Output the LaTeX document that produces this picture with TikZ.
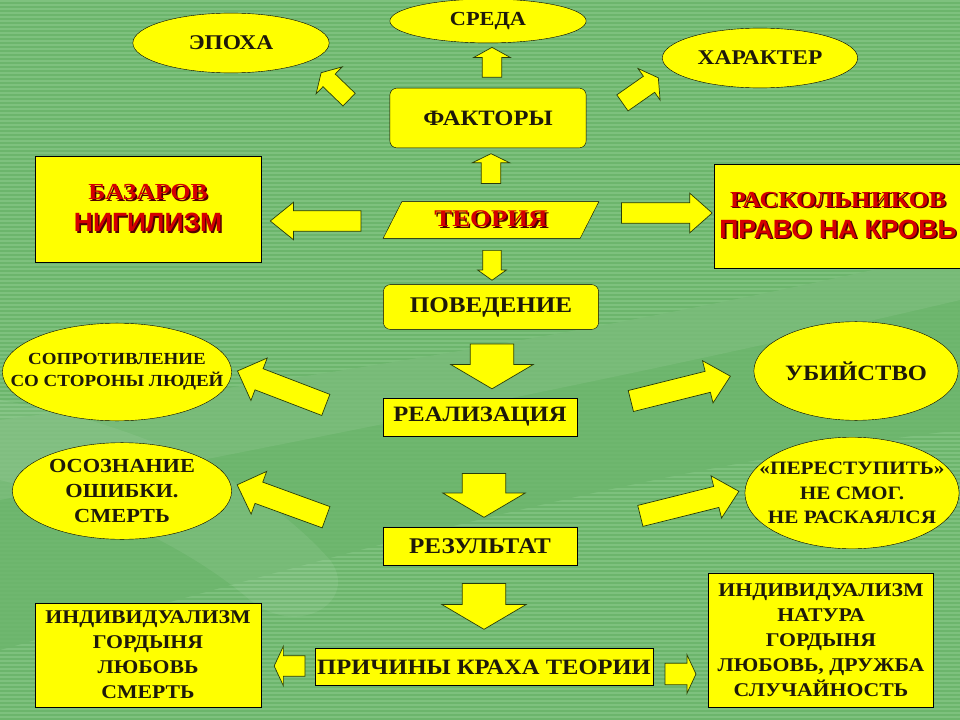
\documentclass[tikz,border=0pt]{standalone}
\usepackage{fontspec}
\setmainfont{Liberation Serif}[FakeStretch=1.12]
\newfontfamily\headsans{Liberation Sans}
\usetikzlibrary{shapes.geometric,shapes.arrows}

\definecolor{bggreen}{RGB}{108,181,108}
\definecolor{stripe}{RGB}{126,193,126}
\definecolor{boxyellow}{RGB}{255,255,0}
\definecolor{ink}{RGB}{30,25,10}
\definecolor{arrowline}{RGB}{40,60,10}
\definecolor{redtxt}{RGB}{212,0,0}
\definecolor{redshade}{RGB}{80,0,0}

% red caption with a dark drop shadow
\newcommand{\shd}[1]{\rlap{\hspace{1.6bp}\raisebox{-1.6bp}{\textcolor{redshade}{#1}}}\textcolor{redtxt}{#1}}
% a line that does not widen its ellipse
\newcommand{\zw}[1]{\makebox[0pt]{#1}}
\newcommand{\fz}[2]{\bfseries\fontsize{#1}{#2}\selectfont}

\begin{document}
\begin{tikzpicture}[x=1bp,y=-1bp,
  oval/.style={ellipse,draw=black,fill=boxyellow,inner sep=0pt,align=center,text=ink},
  box/.style={rectangle,draw=black,fill=boxyellow,inner sep=0pt,align=center,text=ink},
  rbox/.style={box,rounded corners=7bp},
  barrow/.style n args={4}{single arrow,draw=arrowline,fill=boxyellow,line width=0.7bp,
    inner xsep=0pt,inner ysep={#2/2},minimum height={#1},
    single arrow head extend={(#3-#2)/2},single arrow tip angle=#4}]
  \useasboundingbox (0,0) rectangle (960,720);
  % background with fine stripes
  \fill[bggreen] (0,0) rectangle (960,720);
  \foreach \y in {1,5,...,720}
    \draw[stripe,line width=1.6bp] (0,\y) -- (960,\y);
  \fill[bggreen,opacity=0.8] (0,420) .. controls (300,380) and (620,330) .. (960,250)
    -- (960,430) .. controls (620,470) and (320,560) .. (0,650) -- cycle;
  \fill[white,opacity=0.08] (0,420) .. controls (300,380) and (620,330) .. (960,250)
    -- (960,300) .. controls (620,380) and (300,440) .. (0,500) -- cycle;
  \fill[white,opacity=0.07] (0,400) .. controls (120,420) and (250,470) .. (330,560)
    .. controls (360,600) and (300,640) .. (250,600) .. controls (180,540) and (80,500) .. (0,480) -- cycle;

  % factors
  \node[oval,minimum width=197,minimum height=60,font=\fz{21}{25}] (epoha) at (231,43) {ЭПОХА};
  \node[oval,minimum width=197,minimum height=44,font=\fz{20}{24}] (sreda) at (488,21) {СРЕДА};
  \node[oval,minimum width=196,minimum height=60,font=\fz{21}{25}] (harakter) at (760,58) {ХАРАКТЕР};
  \node[rbox,minimum width=197,minimum height=60,font=\fz{22}{26}] (faktory) at (488,118) {ФАКТОРЫ};
  \node[barrow={39}{17}{37}{119},rotate=136] (aepoha) at (337,88) {};
  \node[barrow={30}{19}{36}{122},rotate=90] (asreda) at (492,65) {};
  \node[barrow={44}{19}{38}{119},rotate=35] (aharakter) at (638,92) {};
  \node[barrow={30}{19}{37}{128},rotate=90] (afaktory) at (491,171) {};

  % theory and the two heroes
  \node[trapezium,trapezium left angle=56,trapezium right angle=124,trapezium stretches=true,
    draw=black,fill=boxyellow,inner sep=0pt,minimum width=217,minimum height=37,
    font=\fz{24}{28}] (teoria) at (491,220) {\shd{ТЕОРИЯ}};
  \node[box,minimum width=227,minimum height=106,font=\fz{23}{32}] (bazarov) at (148,209)
    {\shd{БАЗАРОВ}\\{\headsans\fz{26.5}{32}\shd{НИГИЛИЗМ}}};
  \node[box,minimum width=248,minimum height=104,font=\fz{23}{31}] (raskol) at (838,216)
    {\shd{РАСКОЛЬНИКОВ}\\{\headsans\fz{26.5}{31}\shd{ПРАВО НА КРОВЬ}}};
  \node[barrow={91}{20}{37}{78},rotate=180] (abazarov) at (322,221) {};
  \node[barrow={91}{20}{39}{83}] (araskol) at (661,213) {};
  \node[barrow={30}{18}{28}{109},rotate=-90] (apoved) at (492,262) {};

  % central chain
  \node[rbox,minimum width=216,minimum height=45,font=\fz{22.5}{26}] (povedenie) at (491,307) {ПОВЕДЕНИЕ};
  \node[box,minimum width=195,minimum height=38,font=\fz{22}{26}] (realiz) at (480,417) {РЕАЛИЗАЦИЯ};
  \node[box,minimum width=195,minimum height=38,font=\fz{22.5}{26}] (rezult) at (480,546) {РЕЗУЛЬТАТ};
  \node[box,minimum width=339,minimum height=37,font=\fz{22}{26}] (prichiny) at (484,667) {ПРИЧИНЫ КРАХА ТЕОРИИ};
  \node[barrow={45}{43}{82}{119},rotate=-90] (areal) at (492,360) {};
  \node[barrow={44}{43}{82}{119},rotate=-90] (arezult) at (484,489) {};
  \node[barrow={46}{43}{84}{119},rotate=-90] (aprich) at (484,600) {};

  % outcomes
  \node[oval,minimum width=230,minimum height=98,font=\fz{17}{22}] (sopr) at (117,372)
    {\zw{СОПРОТИВЛЕНИЕ}\\\zw{СО СТОРОНЫ ЛЮДЕЙ}};
  \node[oval,minimum width=220,minimum height=97,font=\fz{20}{25}] (osozn) at (122,491)
    {\zw{ОСОЗНАНИЕ}\\\zw{ОШИБКИ.}\\\zw{СМЕРТЬ}};
  \node[oval,minimum width=205,minimum height=99,font=\fz{22}{26}] (ubiistvo) at (856,371) {\zw{УБИЙСТВО}};
  \node[oval,minimum width=215,minimum height=112,font=\fz{19}{24.5}] (perest) at (852,493)
    {\zw{«ПЕРЕСТУПИТЬ»}\\\zw{НЕ СМОГ.}\\\zw{НЕ РАСКАЯЛСЯ}};
  \node[barrow={95}{22}{45}{89},rotate=159] (asopr) at (287,390) {};
  \node[barrow={95}{22}{45}{89},rotate=160] (aosozn) at (287,503) {};
  \node[barrow={103}{21}{43}{86},rotate=14] (aubiistvo) at (675,390) {};
  \node[barrow={102}{21}{43}{86},rotate=14] (aperest) at (684,505) {};

  % causes
  \node[box,minimum width=227,minimum height=105,font=\fz{19.5}{25}] (listl) at (148,655)
    {ИНДИВИДУАЛИЗМ\\ГОРДЫНЯ\\ЛЮБОВЬ\\СМЕРТЬ};
  \node[box,minimum width=226,minimum height=135,font=\fz{19.5}{25}] (listr) at (821,640)
    {ИНДИВИДУАЛИЗМ\\НАТУРА\\ГОРДЫНЯ\\ЛЮБОВЬ, ДРУЖБА\\СЛУЧАЙНОСТЬ};
  \node[barrow={31}{20}{39}{130},rotate=180] (alistl) at (292,666) {};
  \node[barrow={31}{21}{38}{130}] (alistr) at (678,674) {};
\end{tikzpicture}
\end{document}
